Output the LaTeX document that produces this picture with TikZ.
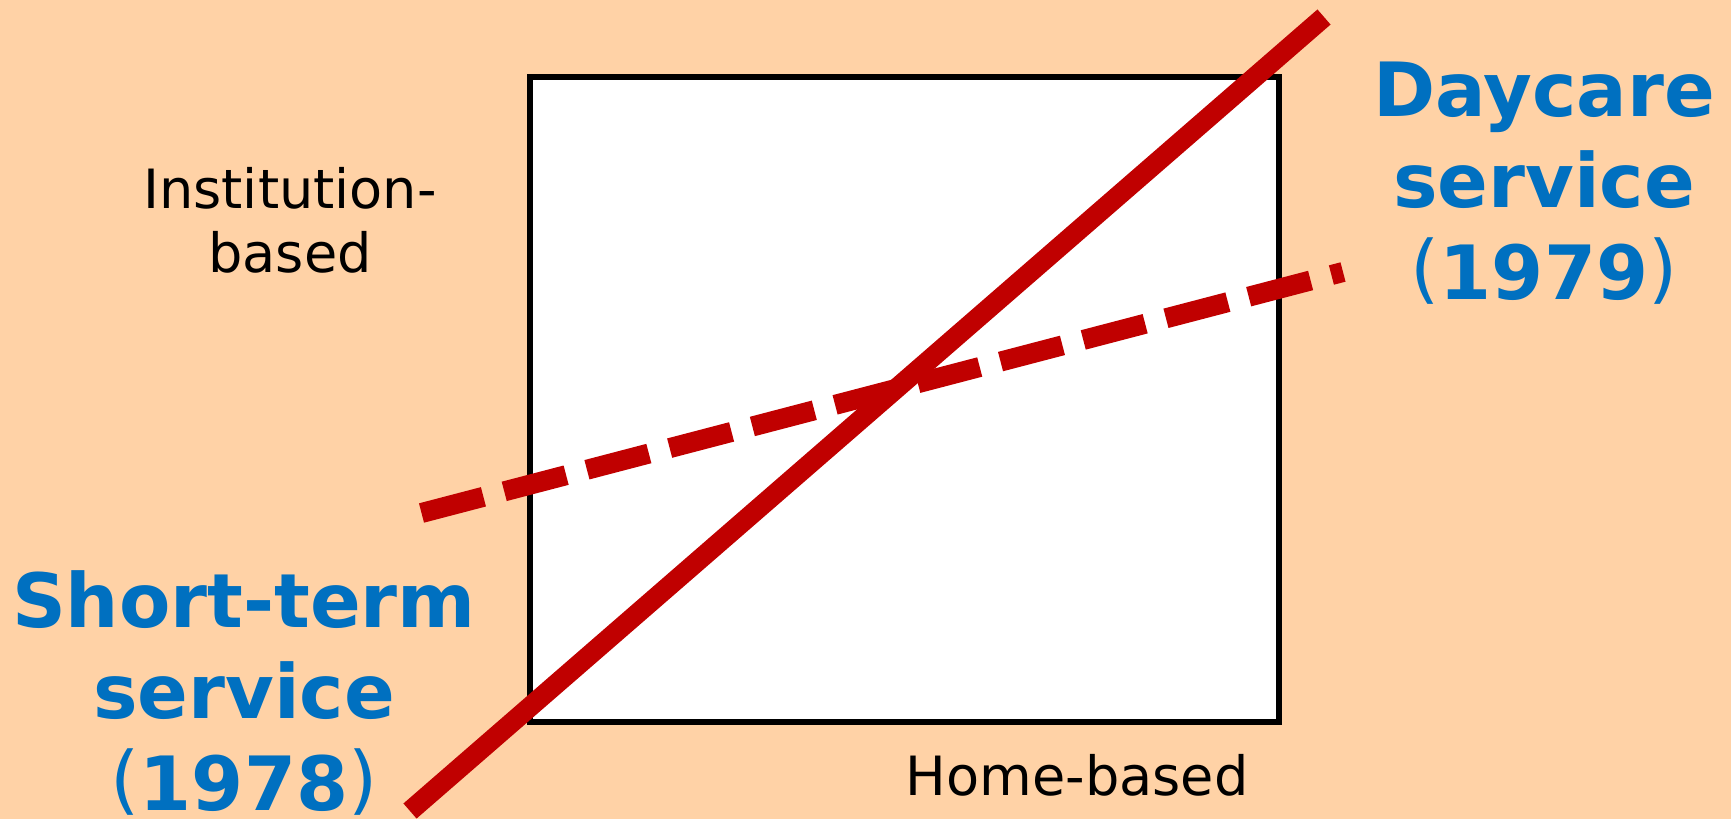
\documentclass[tikz,border=0pt]{standalone}
\usepackage{fontspec}
\setmainfont{DejaVu Sans}
\usetikzlibrary{positioning}
\definecolor{SvcPeach}{HTML}{FFD2A6}
\definecolor{SvcRed}{HTML}{C00000}
\definecolor{SvcBlue}{HTML}{0070C0}
\newcommand{\yr}[1]{\raisebox{0.5mm}{\mdseries(}#1\raisebox{0.5mm}{\mdseries)}}

\begin{document}
\begin{tikzpicture}[
    x=0.1mm,y=-0.1mm,
    axislabel/.style={anchor=base,inner sep=0pt,align=center,font=\fontsize{15.4}{18.2}\selectfont},
    svclabel/.style={anchor=base,inner sep=0pt,align=center,text=SvcBlue,font=\fontsize{21.3}{25.9}\selectfont\bfseries},
    trend/.style={SvcRed,line width=2mm},
  ]
    \fill[SvcPeach] (0,0) rectangle (1731,819);
    \useasboundingbox (0,0) rectangle (1731,819);
    % frame
    \draw[line width=0.55mm,fill=white] (530,77) rectangle (1279,722);
    % axis labels (anchored at last baseline)
    \node[axislabel] (inst) at (290,272) {Institution-\\based};
    \node[axislabel] (home) at (1077,795) {Home-based};
    % service labels
    \node[svclabel] (daycare) at (1544,299) {Daycare\\service\\\yr{1979}};
    \node[svclabel] (short) at (244,810) {Short-term\\service\\\yr{1978}};
    % trend lines
    \coordinate (dayA) at (421.5,513);
    \coordinate (dayB) at (1343,272);
    \coordinate (shortA) at (410,811);
    \coordinate (shortB) at (1324,17);
    \draw[trend,dash pattern=on 6.4mm off 2.15mm] (dayA) -- (dayB);
    \draw[trend] (shortA) -- (shortB);
  \end{tikzpicture}
\end{document}
